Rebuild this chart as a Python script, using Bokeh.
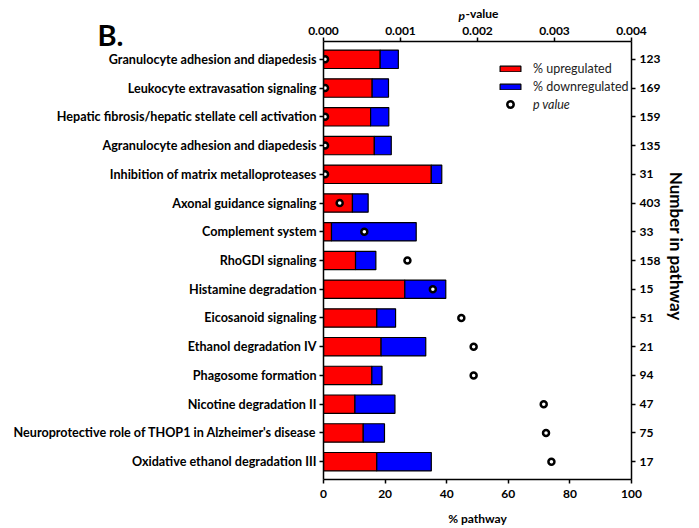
from bokeh.plotting import figure
from bokeh.models import (FactorRange, Range1d, LinearAxis, CategoricalAxis, FixedTicker,
                          NumeralTickFormatter, Legend, LegendItem, Title, ColumnDataSource)
from bokeh.embed import file_html
from bokeh.resources import INLINE

pathways = [
    "Granulocyte adhesion and diapedesis",
    "Leukocyte extravasation signaling",
    "Hepatic fibrosis/hepatic stellate cell activation",
    "Agranulocyte adhesion and diapedesis",
    "Inhibition of matrix metalloproteases",
    "Axonal guidance signaling",
    "Complement system",
    "RhoGDI signaling",
    "Histamine degradation",
    "Eicosanoid signaling",
    "Ethanol degradation IV",
    "Phagosome formation",
    "Nicotine degradation II",
    "Neuroprotective role of THOP1 in Alzheimer's disease",
    "Oxidative ethanol degradation III",
]
counts = ["123", "169", "159", "135", "31", "403", "33", "158", "15", "51", "21", "94", "47", "75", "17"]
pct_up = [18.4, 15.8, 15.3, 16.5, 35.0, 9.4, 2.6, 10.4, 26.4, 17.3, 18.7, 15.7, 10.2, 12.9, 17.3]
pct_down = [5.9, 5.3, 5.9, 5.5, 3.4, 5.1, 27.5, 6.6, 13.3, 6.1, 14.5, 3.3, 13.0, 6.9, 17.7]
p_values = [0.00002, 0.00002, 0.00002, 0.00002, 0.00002, 0.00021, 0.00053, 0.00109,
            0.00142, 0.00179, 0.00195, 0.00195, 0.00286, 0.00289, 0.00296]
pct_ticks = [0, 20, 40, 60, 80, 100]
p_ticks = [0.000, 0.001, 0.002, 0.003, 0.004]

FONT = "Lato"

src = ColumnDataSource(dict(pathway=pathways, up=pct_up, down=pct_down, p=p_values))

y_range = FactorRange(factors=pathways[::-1], range_padding=0.12, range_padding_units="absolute")
p = figure(width=699, height=528, y_range=y_range, x_range=Range1d(0, 100),
           output_backend="svg", toolbar_location=None,
           min_border_left=323, min_border_top=41, min_border_right=68, min_border_bottom=49)
p.extra_x_ranges = {"pv": Range1d(0, 0.004)}
p.extra_y_ranges = {"n": FactorRange(factors=counts[::-1], range_padding=0.12, range_padding_units="absolute")}
p.outline_line_color = None
p.xgrid.visible = False
p.ygrid.visible = False

bars = p.hbar_stack(["up", "down"], y="pathway", height=0.64, source=src,
                    color=["#ff0000", "#0000ff"], line_color="black", line_width=1.2)
pts = p.scatter(x="p", y="pathway", x_range_name="pv", source=src, size=6,
                fill_color="white", line_color="black", line_width=2.5)

def style(ax):
    ax.axis_line_color = "black"
    ax.axis_line_width = 1.5
    ax.major_tick_line_color = "black"
    ax.major_tick_line_width = 1.5
    ax.major_tick_in = 0
    ax.major_tick_out = 4
    ax.minor_tick_line_color = None
    ax.major_label_text_font = FONT
    ax.major_label_text_font_style = "bold"
    ax.major_label_text_font_size = "12px"
    ax.major_label_text_color = "black"
    ax.axis_label_text_font = FONT
    ax.axis_label_text_font_style = "bold"
    ax.axis_label_text_color = "black"

xa = p.xaxis[0]
xa.ticker = FixedTicker(ticks=pct_ticks)
xa.axis_label = "% pathway"
xa.axis_label_text_font_size = "12px"
xa.major_label_standoff = 6
xa.axis_label_standoff = 10
style(xa)

ya = p.yaxis[0]
ya.major_label_standoff = 3
style(ya)
ya.major_label_text_font_size = "12.6px"

top = LinearAxis(x_range_name="pv", ticker=FixedTicker(ticks=p_ticks),
                 formatter=NumeralTickFormatter(format="0.000"))
style(top)
top.major_label_standoff = 3
p.add_layout(top, "above")

right = CategoricalAxis(y_range_name="n", axis_label="Number in pathway\u00a0\u00a0\u00a0\u00a0\u00a0\u00a0\u00a0")
style(right)
right.axis_label_text_font_size = "17px"
right.major_label_standoff = 4
right.axis_label_standoff = 3
p.add_layout(right, "right")

# zero-height titles used as free text above the plot
t_p = Title(text="p\n", align="left", offset=135, vertical_align="middle", standoff=-30,
            text_font=FONT, text_font_style="bold italic", text_font_size="12px", text_color="black")
t_v = Title(text="-value\n", align="left", offset=142, vertical_align="middle", standoff=-30,
            text_font=FONT, text_font_style="bold", text_font_size="12px", text_color="black")
t_b = Title(text="\nB.", align="left", offset=-226, vertical_align="middle", standoff=-67,
            text_font=FONT, text_font_style="bold", text_font_size="29px", text_color="black")
p.add_layout(t_p, "above")
p.add_layout(t_v, "above")
p.add_layout(t_b, "above")

leg1 = Legend(items=[LegendItem(label="% upregulated", renderers=[bars[0]]),
                     LegendItem(label="% downregulated", renderers=[bars[1]])],
              location=(174, 384))
leg2 = Legend(items=[LegendItem(label="p value", renderers=[pts])], location=(174, 366))
for lg in (leg1, leg2):
    lg.glyph_width = 26
    lg.glyph_height = 7
    lg.label_height = 18
    lg.spacing = 0
    lg.padding = 0
    lg.margin = 0
    lg.label_standoff = 10
    lg.border_line_color = None
    lg.background_fill_alpha = 0
    lg.label_text_font = FONT
    lg.label_text_font_size = "12.5px"
    lg.label_text_color = "#222222"
    lg.label_text_baseline = "middle"
leg2.label_text_font_style = "italic"
leg2.glyph_height = 16
p.add_layout(leg1, "center")
p.add_layout(leg2, "center")

open("out.html", "w").write(file_html(p, INLINE))
